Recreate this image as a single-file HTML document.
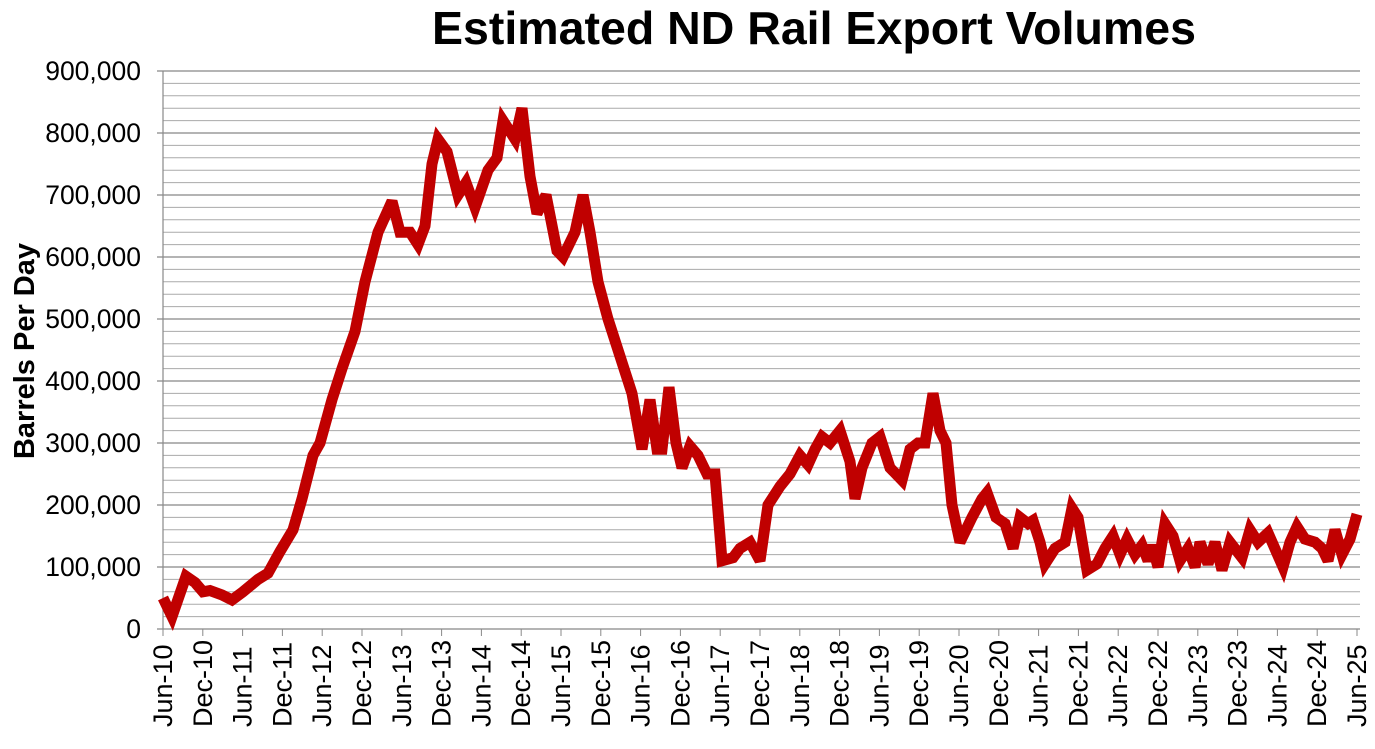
<!DOCTYPE html>
<html><head><style>
body{margin:0;background:#fff;width:1375px;height:744px;overflow:hidden}
text{font-family:"Liberation Sans",Arial,sans-serif}
</style></head><body>
<svg width="1375" height="744" xmlns="http://www.w3.org/2000/svg">
<text x="814" y="44" font-size="46.5" font-weight="bold" text-anchor="middle">Estimated ND Rail Export Volumes</text>
<text transform="translate(34,351) rotate(-90)" font-size="29" font-weight="bold" text-anchor="middle">Barrels Per Day</text>
<g id="grid"></g>
<g id="ylab" font-size="26.5" text-anchor="end"></g>
<g id="xlab" font-size="27"></g>
<line x1="163" y1="71" x2="163" y2="629" stroke="#888" stroke-width="1.2"/>
<polyline id="ser" fill="none" stroke="#c00000" stroke-width="11" stroke-linejoin="miter" stroke-miterlimit="3"/>
</svg>
<script>
var ns="http://www.w3.org/2000/svg";
function el(t,a,p){var e=document.createElementNS(ns,t);for(var k in a)e.setAttribute(k,a[k]);document.getElementById(p).appendChild(e);return e;}
function Y(v){return 629-v*0.62;}
for(var v=0;v<=900;v+=20){var y=Y(v);var maj=v%100==0;
el("line",{x1:maj?157:163,x2:1360,y1:y,y2:y,stroke:maj?"#888":"#aaa","stroke-width":maj?1.2:1},"grid");
if(maj){var t=el("text",{x:141,y:y+9},"ylab");t.textContent=(v==0?"0":v+",000");}}
var mo=["Jun","Dec"];
for(var i=0;i<=30;i++){var x=163+i*39.8;
el("line",{x1:x,x2:x,y1:629,y2:636,stroke:"#888"},"grid");
var yr=10+Math.floor(i/2);var t=el("text",{transform:"translate("+(x+9)+",727) rotate(-90)"},"xlab");t.textContent=mo[i%2]+"-"+yr;}
var d=[163,50,172,20,186,85,195,75,203,60,210,62,222,55,232,47,243,60,258,80,268,90,280,125,293,160,302,210,313,280,320,300,332,370,342,420,355,480,365,560,378,640,392,690,400,640,410,640,418,620,425,650,432,750,438,790,447,770,458,700,466,720,475,680,488,740,497,760,503,820,515,790,522,840,530,730,537,670,546,700,557,610,563,600,575,640,583,700,590,640,598,560,608,500,620,440,632,380,642,290,650,370,657,290,662,290,669,390,676,300,682,260,690,295,698,280,707,250,715,250,722,110,733,115,740,130,750,140,760,110,768,200,780,230,790,250,800,280,808,265,815,290,822,310,830,300,840,320,850,270,855,210,862,260,872,300,880,310,890,260,902,240,910,290,918,300,925,300,933,380,940,320,946,300,952,200,960,140,972,180,982,210,987,220,996,180,1005,170,1013,130,1020,180,1028,170,1033,175,1040,140,1045,105,1055,130,1065,140,1072,195,1078,180,1087,95,1097,105,1105,130,1113,150,1120,120,1127,145,1135,120,1142,135,1148,110,1152,135,1158,100,1165,170,1173,150,1180,110,1188,130,1195,100,1200,140,1208,105,1215,140,1222,95,1230,140,1242,115,1250,160,1258,140,1268,155,1283,100,1290,140,1297,165,1305,145,1315,140,1322,130,1328,110,1335,160,1342,120,1350,145,1357,185];
var p=[];for(var i=0;i<d.length;i+=2)p.push(d[i]+","+Y(d[i+1]).toFixed(1));
document.getElementById("ser").setAttribute("points",p.join(" "));
</script>
</body></html>
